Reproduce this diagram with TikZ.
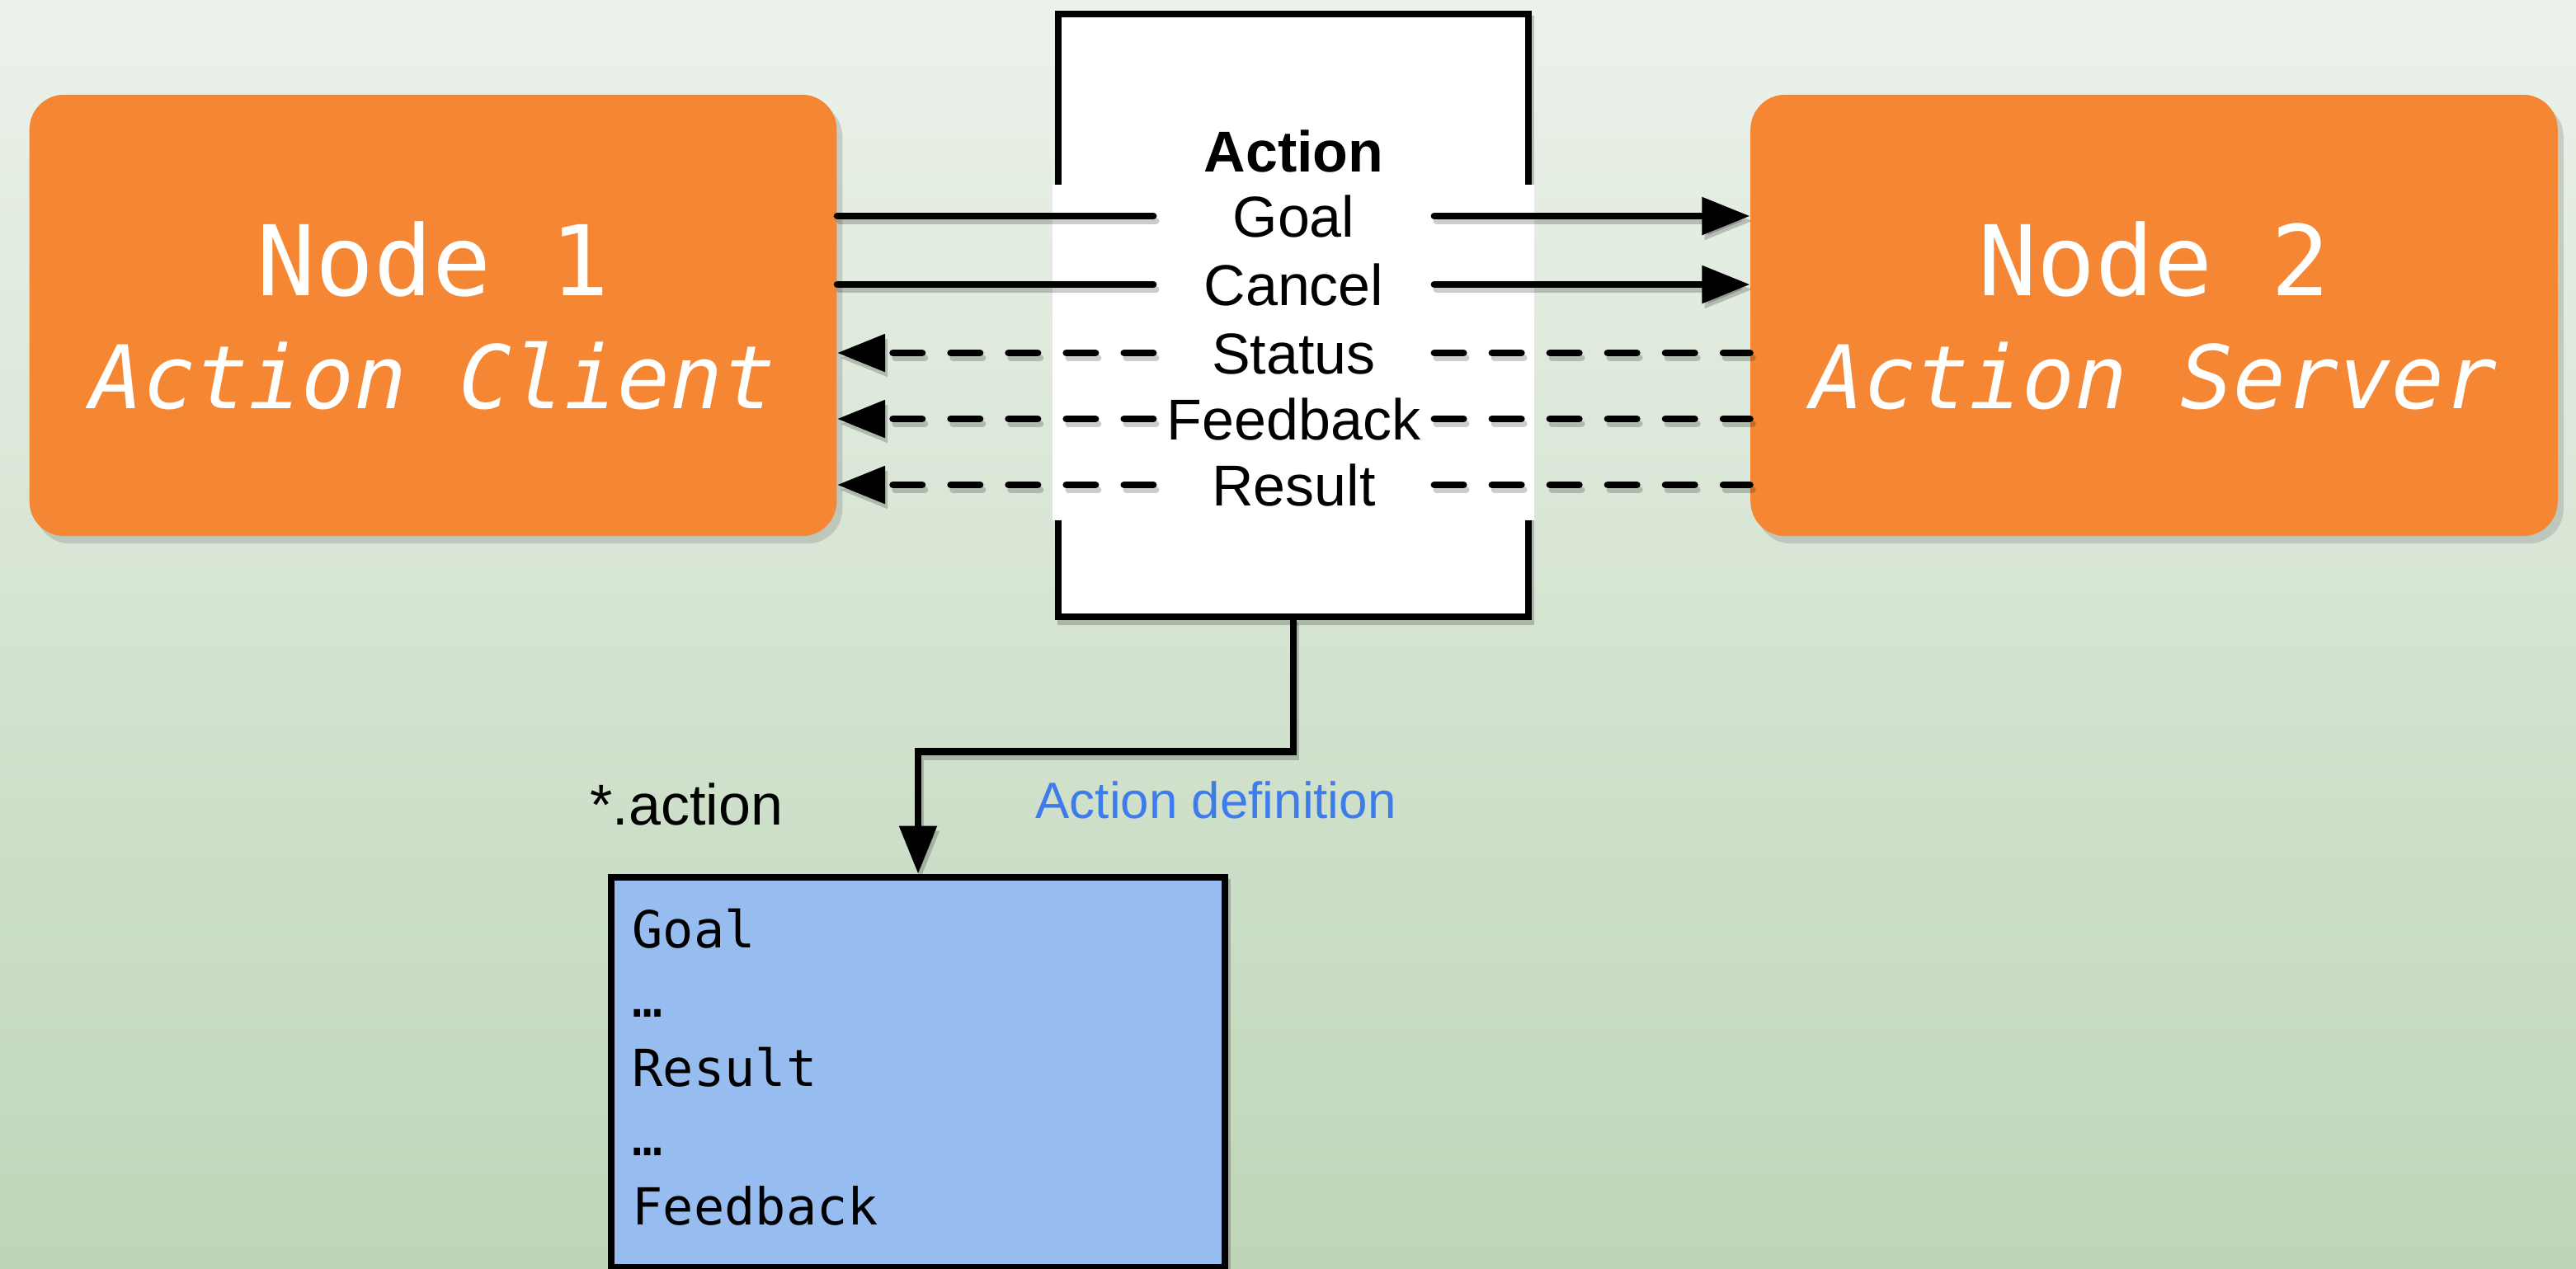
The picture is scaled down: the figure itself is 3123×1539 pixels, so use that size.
\documentclass[tikz,border=0pt]{standalone}
\usepackage{fontspec}
\setmainfont{Liberation Sans}
\newfontfamily\codefont{DejaVu Sans Mono}[ItalicFont={DejaVu Sans Mono Oblique}]
\usetikzlibrary{arrows.meta,shadows}
\definecolor{nodeorange}{RGB}{245,135,52}
\definecolor{defblue}{RGB}{150,188,240}
\definecolor{linkblue}{RGB}{62,124,236}
\definecolor{bgtop}{RGB}{236,242,235}
\definecolor{bgbottom}{RGB}{190,213,183}

\begin{document}
\begin{tikzpicture}[x=0.01cm, y=-0.01cm,
  rosnode/.style={rectangle, rounded corners=0.42cm, fill=nodeorange, text=white,
    minimum width=9.78cm, minimum height=5.35cm, align=center, inner sep=0pt,
    drop shadow={shadow xshift=0.07cm, shadow yshift=-0.09cm, opacity=0.3},
    font=\codefont\fontsize{33.6pt}{39pt}\selectfont},
  tip/.style={-{Triangle[length=0.58cm, width=0.44cm]}},
  dashes/.style={dash pattern=on 0.355cm off 0.345cm},
  wireshadow/.style={draw=black, opacity=0.2, line width=0.085cm, line cap=round,
    transform canvas={shift={(0.03cm,-0.06cm)}}},
  wire/.style={line width=0.085cm, line cap=round, preaction={wireshadow}},
  arrowwire/.style={line width=0.085cm, line cap=round, tip, preaction={wireshadow, tip}},
  msgwire/.style={line width=0.085cm, line cap=round, dashes, preaction={wireshadow, dashes}},
  msgarrow/.style={line width=0.085cm, line cap=round, dashes, tip, preaction={wireshadow, dashes, tip}},
  msglabel/.style={inner sep=0pt, minimum width=3.39cm, text height=0.60cm,
    text depth=0.10cm, font=\fontsize{19.9pt}{24pt}\selectfont},
  framebox/.style={draw, line width=0.085cm, inner sep=0pt, preaction={wireshadow}},
]
\useasboundingbox (0,0) rectangle (3123,1539);
\shade[top color=bgtop, bottom color=bgbottom] (0,0) rectangle (3123,1539);

% the two ROS nodes
\node[rosnode] (n1) at (525,382.5)
  {Node 1\\{\itshape\fontsize{30.2pt}{39pt}\selectfont Action Client}};
\node[rosnode] (n2) at (2611.5,382.5)
  {Node 2\\{\itshape\fontsize{30.2pt}{39pt}\selectfont Action Server}};

% the action interface box with its white label band
\node[framebox, fill=white, minimum width=5.70cm, minimum height=7.31cm] (act) at (1568,382.5) {};
\node[fill=white, minimum width=5.84cm, minimum height=4.07cm, inner sep=0pt] (band) at (1568,427.5) {};

\node[msglabel, font=\bfseries\fontsize{19.9pt}{24pt}\selectfont] (title) at (1568.5,183) {Action};
\node[msglabel] (goal) at (1568.5,262) {Goal};
\node[msglabel] (cancel) at (1568.5,345) {Cancel};
\node[msglabel] (status) at (1568.5,428) {Status};
\node[msglabel] (feedback) at (1568.5,508) {Feedback};
\node[msglabel] (result) at (1568.5,588) {Result};

% client -> server topics
\foreach \m in {goal,cancel}{
  \draw[wire] (\m.west -| n1.east) -- (\m.west);
  \draw[arrowwire] (\m.east) -- (\m.east -| n2.west);
}
% server -> client topics
\foreach \m in {status,feedback,result}{
  \draw[msgarrow] (\m.west) -- (\m.west -| n1.east);
  \draw[msgwire] (\m.east) -- (\m.east -| n2.west);
}

% the .action definition file
\node[framebox, fill=defblue, minimum width=7.44cm, minimum height=4.73cm] (def) at (1113,1300.5) {};
\draw[arrowwire, line cap=butt] (act.south) -- ++(0,159) -| (def.north);

\node[anchor=north west, inner sep=0pt, align=left,
  font=\codefont\fontsize{17.6pt}{23.9pt}\selectfont] (deftext) at (766,1101)
  {Goal\\…\\Result\\…\\Feedback};

\node[anchor=base west, inner sep=0pt, font=\fontsize{19.9pt}{24pt}\selectfont] (ext) at (715,1000) {*.action};
\node[anchor=base west, inner sep=0pt, text=linkblue, font=\fontsize{17.6pt}{21pt}\selectfont] (deflabel) at (1255,992) {Action definition};
\end{tikzpicture}
\end{document}
